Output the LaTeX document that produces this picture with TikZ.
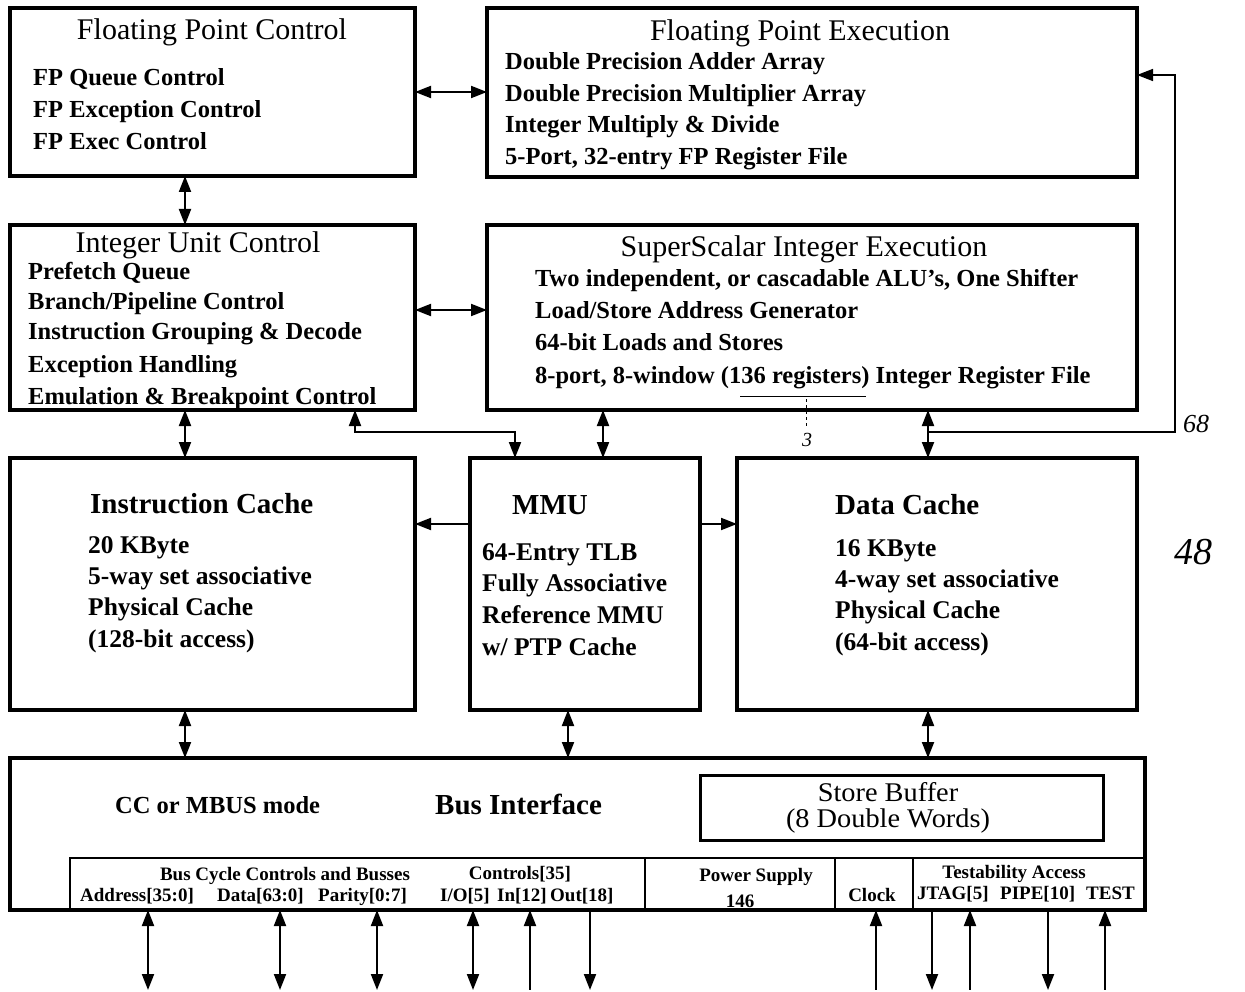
\documentclass[tikz,border=0pt]{standalone}
\usepackage{fontspec}
\setmainfont{Liberation Serif}
\newfontfamily\sbfont[FakeStretch=1.05]{Liberation Serif}
\usetikzlibrary{arrows.meta,calc}
\begin{document}
\begin{tikzpicture}[x=1pt,y=-1pt,
  blk/.style={draw,line width=4pt,rectangle,inner sep=0pt,outer sep=0pt,anchor=north west},
  ttl/.style={font=\fontsize{30}{32}\selectfont,inner sep=0pt,anchor=base},
  itm/.style={font=\bfseries\fontsize{24.5}{26}\selectfont,inner sep=0pt,anchor=base west},
  ctl/.style={font=\bfseries\fontsize{29}{31}\selectfont,inner sep=0pt,anchor=base west},
  itc/.style={font=\bfseries\fontsize{25.5}{27}\selectfont,inner sep=0pt,anchor=base west},
  sml/.style={font=\bfseries\fontsize{19}{20}\selectfont,inner sep=0pt,anchor=base},
  hand/.style={font=\itshape,inner sep=0pt},
  tipA/.tip={Triangle[length=16pt,width=12pt]},
  dbl/.style={line width=2pt,{tipA}-{tipA}},
  sgl/.style={line width=2pt,-{tipA}},
  up/.style={line width=2pt,{tipA}-},
]
\useasboundingbox (0,0) rectangle (1245,992);

% ---------- blocks ----------
\node[blk,minimum width=405pt,minimum height=168pt] (fpc) at (10,8) {};
\node[blk,minimum width=650pt,minimum height=169pt] (fpe) at (487,8) {};
\node[blk,minimum width=405pt,minimum height=185pt] (iuc) at (10,225) {};
\node[blk,minimum width=650pt,minimum height=185pt] (sie) at (487,225) {};
\node[blk,minimum width=405pt,minimum height=252pt] (ic) at (10,458) {};
\node[blk,minimum width=230pt,minimum height=252pt] (mmu) at (470,458) {};
\node[blk,minimum width=400pt,minimum height=252pt] (dc) at (737,458) {};
\node[blk,minimum width=1135pt,minimum height=152pt] (bus) at (10,758) {};
\node[blk,line width=3pt,minimum width=403pt,minimum height=65pt] (sb) at (700,775) {};
\node[blk,line width=2pt,minimum width=1075pt,minimum height=52pt] (strip) at (70,858) {};
\coordinate (d1) at (645,0);
\coordinate (d2) at (835,0);
\coordinate (d3) at (913,0);
\draw[line width=1.6pt] (d1 |- strip.north) -- (d1 |- strip.south);
\draw[line width=1.6pt] (d2 |- strip.north) -- (d2 |- strip.south);
\draw[line width=1.6pt] (d3 |- strip.north) -- (d3 |- strip.south);

% ---------- texts ----------
\node[ttl] (t1) at (212,40) {Floating Point Control};
\node[itm] (t1a) at (33,86) {FP Queue Control};
\node[itm] (t1b) at (33,118) {FP Exception Control};
\node[itm] (t1c) at (33,150) {FP Exec Control};

\node[ttl] (t2) at (800,41) {Floating Point Execution};
\node[itm] (t2a) at (505,70) {Double Precision Adder Array};
\node[itm] (t2b) at (505,102) {Double Precision Multiplier Array};
\node[itm] (t2c) at (505,133) {Integer Multiply \& Divide};
\node[itm] (t2d) at (505,165) {5-Port, 32-entry FP Register File};

\node[ttl] (t3) at (198,253) {Integer Unit Control};
\node[itm] (t3a) at (28,280) {Prefetch Queue};
\node[itm] (t3b) at (28,309) {Branch/Pipeline Control};
\node[itm] (t3c) at (28,340) {Instruction Grouping \& Decode};
\node[itm] (t3d) at (28,372) {Exception Handling};
\node[itm] (t3e) at (28,404) {Emulation \& Breakpoint Control};

\node[ttl] (t4) at (804,257) {SuperScalar Integer Execution};
\node[itm] (t4a) at (535,287) {Two independent, or cascadable ALU's, One Shifter};
\node[itm] (t4b) at (535,319) {Load/Store Address Generator};
\node[itm] (t4c) at (535,351) {64-bit Loads and Stores};
\node[itm] (t4d) at (535,383) {8-port, 8-window (136 registers) Integer Register File};

\node[ctl] (t5) at (90,513) {Instruction Cache};
\node[itc] (t5a) at (88,553) {20 KByte};
\node[itc] (t5b) at (88,584) {5-way set associative};
\node[itc] (t5c) at (88,615) {Physical Cache};
\node[itc] (t5d) at (88,647) {(128-bit access)};

\node[ctl] (t6) at (512,514) {MMU};
\node[itc] (t6a) at (482,560) {64-Entry TLB};
\node[itc] (t6b) at (482,591) {Fully Associative};
\node[itc] (t6c) at (482,623) {Reference MMU};
\node[itc] (t6d) at (482,655) {w/ PTP Cache};

\node[ctl] (t7) at (835,514) {Data Cache};
\node[itc] (t7a) at (835,556) {16 KByte};
\node[itc] (t7b) at (835,587) {4-way set associative};
\node[itc] (t7c) at (835,618) {Physical Cache};
\node[itc] (t7d) at (835,650) {(64-bit access)};

\node[itm] (t8a) at (115,813) {CC or MBUS mode};
\node[ctl] (t8b) at (435,814) {Bus Interface};
\node[font=\sbfont\fontsize{27}{27}\selectfont,inner sep=0pt,anchor=base] (t8c) at (888,801) {Store Buffer};
\node[font=\sbfont\fontsize{27}{27}\selectfont,inner sep=0pt,anchor=base] (t8d) at (888,827) {(8 Double Words)};

\node[sml] (s1) at (285,880) {Bus Cycle Controls and Busses};
\node[sml] (s2) at (520,879) {Controls[35]};
\node[sml] (s3) at (756,881) {Power Supply};
\node[sml] (s4) at (1014,878) {Testability Access};
\node[sml,anchor=base west] (s5) at (80,901) {Address[35:0]};
\node[sml,anchor=base west] (s6) at (217,901) {Data[63:0]};
\node[sml,anchor=base west] (s7) at (318,901) {Parity[0:7]};
\node[sml,anchor=base west] (s8) at (440,901) {I/O[5]};
\node[sml,anchor=base west] (s9) at (497,901) {In[12]};
\node[sml,anchor=base west] (s10) at (550,901) {Out[18]};
\node[sml] (s11) at (740,907) {146};
\node[sml] (s12) at (872,901) {Clock};
\node[sml,anchor=base west] (s13) at (917,899) {JTAG[5]};
\node[sml,anchor=base west] (s14) at (1000,899) {PIPE[10]};
\node[sml,anchor=base west] (s15) at (1086,899) {TEST};

% ---------- connector coordinates ----------
\coordinate (c1) at (185,0);
\coordinate (c2) at (603,0);
\coordinate (c3) at (928,0);
\coordinate (cm) at (568,0);
\coordinate (cx) at (355,0);
\coordinate (cy) at (515,0);
\coordinate (r2) at (0,310);
\coordinate (r3) at (0,524);
\coordinate (jy) at (0,432);
\coordinate (lx) at (1175,0);
\coordinate (ly) at (0,75);
\coordinate (bot) at (0,990);

% ---------- connectors ----------
\draw[dbl] (fpc.east) -- (fpc.east -| fpe.west);
\draw[dbl] (c1 |- fpc.south) -- (c1 |- iuc.north);
\draw[dbl] (iuc.east |- r2) -- (sie.west |- r2);
\draw[dbl] (c1 |- iuc.south) -- (c1 |- ic.north);
\draw[dbl] (cx |- iuc.south) -- (cx |- jy) -- (cy |- jy) -- (cy |- mmu.north);
\draw[dbl] (c2 |- sie.south) -- (c2 |- mmu.north);
\draw[dbl] (c3 |- sie.south) -- (c3 |- dc.north);
\draw[line width=1.5pt,-{tipA}] (c3 |- jy) -- (lx |- jy) -- (lx |- ly) -- (fpe.east |- ly);
\draw[sgl] (mmu.west |- r3) -- (ic.east |- r3);
\draw[sgl] (mmu.east |- r3) -- (dc.west |- r3);
\draw[dbl] (c1 |- ic.south) -- (c1 |- bus.north);
\draw[dbl] (cm |- mmu.south) -- (cm |- bus.north);
\draw[dbl] (c3 |- dc.south) -- (c3 |- bus.north);

% ---------- external pins ----------
\foreach \px/\nm in {148/pa,280/pb,377/pc,473/pd} {
  \coordinate (\nm) at (\px,0);
  \draw[dbl] (\nm |- bus.south) -- (\nm |- bot);
}
\foreach \px/\nm in {530/pe,876/pf,970/pg,1105/ph} {
  \coordinate (\nm) at (\px,0);
  \draw[up] (\nm |- bus.south) -- (\nm |- bot);
}
\foreach \px/\nm in {590/pi,932/pj,1048/pk} {
  \coordinate (\nm) at (\px,0);
  \draw[sgl] (\nm |- bus.south) -- (\nm |- bot);
}

% ---------- handwritten annotations ----------
\coordinate (ua) at (740,396);
\coordinate (ub) at (866,396);
\coordinate (uc) at (806,399);
\coordinate (ud) at (806,428);
\draw[line width=1pt] (ua) -- (ub);
\draw[line width=0.8pt,dashed] (uc) -- (ud);
\node[hand,font=\itshape\fontsize{20}{20}\selectfont] (h3) at (807,440) {3};
\node[hand,font=\itshape\fontsize{26}{26}\selectfont] (h68) at (1196,424) {68};
\node[hand,font=\itshape\fontsize{38}{38}\selectfont] (h48) at (1193,552) {48};
\end{tikzpicture}
\end{document}
